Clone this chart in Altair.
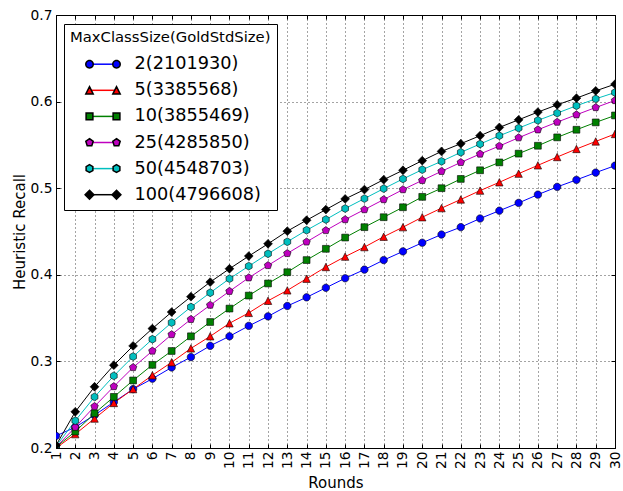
import math
import altair as alt
import pandas as pd

# ---------------- data ----------------
rounds = list(range(1, 31))
series_names = ["2(2101930)", "5(3385568)", "10(3855469)",
                "25(4285850)", "50(4548703)", "100(4796608)"]

recall_2 = [0.214, 0.224, 0.238, 0.253, 0.268, 0.280, 0.293, 0.305, 0.318, 0.329,
            0.341, 0.352, 0.364, 0.374, 0.385, 0.396, 0.406, 0.417, 0.427, 0.437,
            0.4465, 0.455, 0.465, 0.474, 0.483, 0.4926, 0.5015, 0.5096, 0.518, 0.526]
recall_5 = [0.200, 0.216, 0.234, 0.252, 0.268, 0.284, 0.299, 0.315, 0.329, 0.344,
            0.356, 0.370, 0.382, 0.3955, 0.409, 0.421, 0.432, 0.444, 0.455, 0.4665,
            0.477, 0.487, 0.4972, 0.5068, 0.5168, 0.5264, 0.536, 0.5453, 0.554, 0.5626]
recall_10 = [0.201, 0.219, 0.240, 0.259, 0.278, 0.296, 0.312, 0.329, 0.3455, 0.361,
             0.376, 0.390, 0.403, 0.417, 0.430, 0.443, 0.455, 0.4665, 0.478, 0.490,
             0.500, 0.5107, 0.5207, 0.5298, 0.5399, 0.549, 0.5587, 0.5675, 0.576, 0.584]
recall_25 = [0.201, 0.224, 0.248, 0.271, 0.293, 0.312, 0.331, 0.3486, 0.365, 0.381,
             0.3966, 0.4108, 0.4247, 0.438, 0.4512, 0.4638, 0.4753, 0.4869, 0.4984, 0.509,
             0.5195, 0.5298, 0.5395, 0.5487, 0.5583, 0.5675, 0.5763, 0.5848, 0.5932, 0.6013]
recall_50 = [0.202, 0.2315, 0.259, 0.2833, 0.3056, 0.3256, 0.3448, 0.3628, 0.3793, 0.3955,
             0.410, 0.4243, 0.4381, 0.4515, 0.4638, 0.4765, 0.488, 0.4995, 0.5107, 0.5214,
             0.531, 0.5414, 0.551, 0.5606, 0.5694, 0.5783, 0.5867, 0.5952, 0.6032, 0.6105]
recall_100 = [0.203, 0.2418, 0.2707, 0.2956, 0.3179, 0.3379, 0.357, 0.3747, 0.3916, 0.407,
              0.4216, 0.4358, 0.4504, 0.463, 0.4753, 0.4876, 0.4984, 0.5099, 0.5207, 0.5318,
              0.5425, 0.5514, 0.5606, 0.5702, 0.579, 0.5879, 0.5963, 0.604, 0.6124, 0.6201]

y_ticks = [0.2, 0.3, 0.4, 0.5, 0.6, 0.7]
colors = ["#0000ff", "#ff0000", "#008000", "#bf00bf", "#00bfbf", "#000000"]
marker_kinds = ["circle", "triangle", "square", "pentagon", "hexagon", "diamond"]
marker_radius_px = [3.7, 3.7, 3.4, 3.9, 3.9, 4.4]

all_values = [recall_2, recall_5, recall_10, recall_25, recall_50, recall_100]
rows = []
for name, vals in zip(series_names, all_values):
    for r, v in zip(rounds, vals):
        rows.append({"round": r, "recall": v, "series": name})
df = pd.DataFrame(rows)


# ---------------- marker shapes (svg symbol paths) ----------------
def regular_poly(n, r, cx=0.0):
    pts = []
    for k in range(n):
        a = math.radians(-90 + 360.0 * k / n)
        pts.append((cx + r * math.cos(a), r * math.sin(a)))
    return "M" + "L".join(f"{x:.4f},{y:.4f}" for x, y in pts) + "Z"


def marker_path(kind, r, cx=0.0):
    if kind == "circle":
        return regular_poly(28, r, cx)
    if kind == "triangle":
        return f"M{cx:.4f},{-r:.4f}L{cx + r:.4f},{r:.4f}L{cx - r:.4f},{r:.4f}Z"
    if kind == "square":
        return (f"M{cx - r:.4f},{-r:.4f}L{cx + r:.4f},{-r:.4f}"
                f"L{cx + r:.4f},{r:.4f}L{cx - r:.4f},{r:.4f}Z")
    if kind == "pentagon":
        return regular_poly(5, r, cx)
    if kind == "hexagon":
        return regular_poly(6, r, cx)
    return regular_poly(4, r, cx)  # diamond


PLOT_UNIT = 4.0          # symbol size 64 -> half width 4 px
LEG_UNIT = 13.5          # symbol size 729 -> half width 13.5 px
plot_shapes = [marker_path(k, rp / PLOT_UNIT) for k, rp in zip(marker_kinds, marker_radius_px)]
legend_shapes = [marker_path(k, rp / LEG_UNIT, -1.0) + marker_path(k, rp / LEG_UNIT, 1.0)
                 for k, rp in zip(marker_kinds, marker_radius_px)]

FONT = "DejaVu Sans"
W, H = 559, 433
title_text = "MaxClassSize(GoldStdSize)"

x_scale = alt.Scale(domain=[1, 30], nice=False, zero=False)
y_scale = alt.Scale(domain=[0.2, 0.7], nice=False, zero=False)

common_leg = dict(
    title=title_text, orient="none", legendX=8, legendY=9, direction="vertical",
    symbolSize=729, symbolOffset=18.5, labelOffset=17, rowPadding=2.1,
    titlePadding=4.9, padding=6, labelFont=FONT, labelFontSize=17.7,
    labelColor="black", titleFont=FONT, titleFontSize=14.8, titleFontWeight="normal",
    titleColor="black", titleLimit=400, labelLimit=400, titleAlign="left",
    cornerRadius=0,
)
legend_lines = alt.Legend(symbolType="stroke", fillColor="white", strokeColor="black",
                          **common_leg)
legend_marks = alt.Legend(titleOpacity=0, labelOpacity=0, symbolStrokeColor="black",
                          **common_leg)

grid_kw = dict(grid=True, gridColor="black", gridDash=[1, 3], gridWidth=0.8, gridOpacity=0.9)
tick_axis_kw = dict(labels=False, grid=False, domain=False, ticks=True, tickSize=4,
                    tickColor="black", tickWidth=1, title=None)

lines = alt.Chart(df).mark_line(strokeWidth=1, clip=True).encode(
    x=alt.X("round:Q", scale=x_scale, axis=alt.Axis(
        orient="bottom", values=rounds, format="d", labelAngle=270, labelPadding=3,
        labelFlush=False, labelOverlap=False, ticks=False, tickSize=0, domain=False,
        title="Rounds", titleX=W / 2, titleY=34, titleBaseline="middle", titleAlign="center",
        **grid_kw)),
    y=alt.Y("recall:Q", scale=y_scale, axis=alt.Axis(
        orient="left", values=y_ticks, format=".1f", labelPadding=4, labelFlush=False,
        labelOverlap=False, ticks=False, tickSize=0, domain=False,
        title="Heuristic Recall", titleX=-37, titleY=H / 2, titleAngle=270,
        titleBaseline="middle", titleAlign="center", **grid_kw)),
    color=alt.Color("series:N", scale=alt.Scale(domain=series_names, range=colors),
                    legend=legend_lines),
)

points = alt.Chart(df).mark_point(filled=True, size=64, stroke="black", strokeWidth=0.6,
                                  opacity=1, clip=True).encode(
    x=alt.X("round:Q", scale=x_scale,
            axis=alt.Axis(orient="top", offset=-H, values=rounds, **tick_axis_kw)),
    y=alt.Y("recall:Q", scale=y_scale,
            axis=alt.Axis(orient="right", offset=-W, values=y_ticks, **tick_axis_kw)),
    fill=alt.Fill("series:N", scale=alt.Scale(domain=series_names, range=colors), legend=None),
    shape=alt.Shape("series:N", scale=alt.Scale(domain=series_names, range=plot_shapes),
                    legend=None),
)

legend_layer = alt.Chart(df).transform_calculate(lg="datum.series").mark_point(
    filled=True, size=0, stroke="black", strokeWidth=0.6, opacity=1).encode(
    x=alt.X("round:Q", scale=x_scale,
            axis=alt.Axis(orient="bottom", offset=-H, values=rounds, **tick_axis_kw)),
    y=alt.Y("recall:Q", scale=y_scale,
            axis=alt.Axis(orient="left", offset=-W, values=y_ticks, **tick_axis_kw)),
    color=alt.Color("lg:N", scale=alt.Scale(domain=series_names, range=colors),
                    legend=legend_marks),
    shape=alt.Shape("lg:N", scale=alt.Scale(domain=series_names, range=legend_shapes),
                    legend=legend_marks),
)

chart = alt.layer(lines, points, legend_layer).resolve_scale(
    color="independent", shape="independent"
).resolve_axis(
    x="independent", y="independent"
).properties(
    width=W, height=H,
    padding={"left": 56, "top": 15, "right": 8, "bottom": 43},
    autosize=alt.AutoSizeParams(type="none"),
    background="white",
).configure_view(
    stroke="black", strokeWidth=1
).configure_axis(
    labelFont=FONT, labelFontSize=13.8, labelColor="black",
    titleFont=FONT, titleFontSize=15, titleFontWeight="normal", titleColor="black",
)

chart.save("out.html", embed_options={"renderer": "svg", "actions": False})
